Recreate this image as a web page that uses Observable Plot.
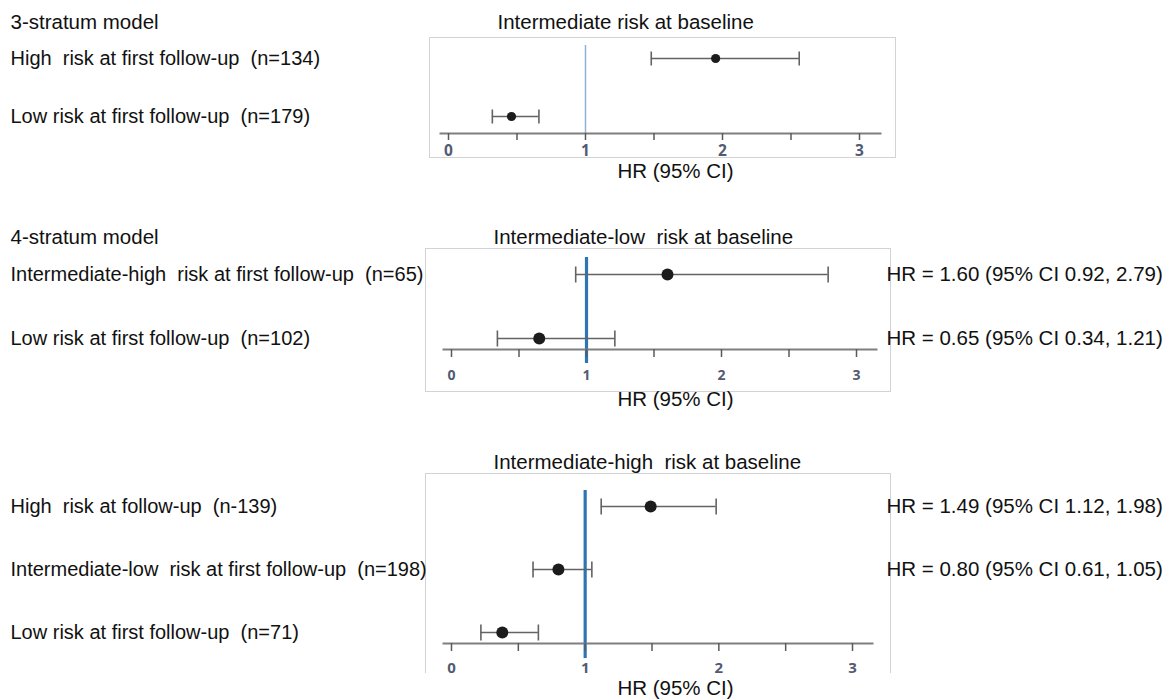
<!DOCTYPE html>
<html><head><meta charset="utf-8">
<script src="https://cdn.jsdelivr.net/npm/d3@7"></script>
<script src="https://cdn.jsdelivr.net/npm/@observablehq/plot@0.6"></script>
<style>
html,body{margin:0;padding:0;background:#fff;}
#chart{position:relative;width:1171px;height:700px;overflow:hidden;background:#fff;}
#chart svg{display:block;}
#chart text{white-space:pre;}
</style></head><body><div id="chart"></div>
<script>
// ---- data ----
const modelTitles = ["3-stratum model", "4-stratum model", ""];
const panelTitles = ["Intermediate risk at baseline", "Intermediate-low  risk at baseline", "Intermediate-high  risk at baseline"];
const axisLabel = "HR (95% CI)";
const xTicks = [0, 0.5, 1, 1.5, 2, 2.5, 3];
const xTickLabels = ["0", "", "1", "", "2", "", "3"];

const p1Labels = ["High  risk at first follow-up  (n=134)", "Low risk at first follow-up  (n=179)"];
const p1HR = [1.95, 0.46];
const p1Lo = [1.48, 0.32];
const p1Hi = [2.56, 0.66];
const p1Notes = ["", ""];

const p2Labels = ["Intermediate-high  risk at first follow-up  (n=65)", "Low risk at first follow-up  (n=102)"];
const p2HR = [1.60, 0.65];
const p2Lo = [0.92, 0.34];
const p2Hi = [2.79, 1.21];
const p2Notes = ["HR = 1.60 (95% CI 0.92, 2.79)", "HR = 0.65 (95% CI 0.34, 1.21)"];

const p3Labels = ["High  risk at follow-up  (n-139)", "Intermediate-low  risk at first follow-up  (n=198)", "Low risk at first follow-up  (n=71)"];
const p3HR = [1.49, 0.80, 0.38];
const p3Lo = [1.12, 0.61, 0.22];
const p3Hi = [1.98, 1.05, 0.65];
const p3Notes = ["HR = 1.49 (95% CI 1.12, 1.98)", "HR = 0.80 (95% CI 0.61, 1.05)", ""];

// ---- layout / style ----
const W = 1171;
const FONT = "Liberation Sans, Arial, sans-serif";
const FS = 20.5;
const FS_ROW = 20;

// vertical bar symbol for CI caps
const capSymbol = {
  draw(context, size) {
    const h = Math.sqrt(size / Math.PI);
    context.moveTo(0, -h);
    context.lineTo(0, h);
  }
};

const panels = [
  {model: modelTitles[0], title: panelTitles[0], labels: p1Labels, hr: p1HR, lo: p1Lo, hi: p1Hi, notes: p1Notes,
   g: {h: 205, mt: 45, axisY: 133, ml: 440, xr: 880, yInT: 13, yInB: 17, xInL: 8, xInR: 21,
       box: {l: 429, r: 895, t: 37, b: 157}, boxSides: false,
       refColor: "#8fb3d6", refW: 1.5, refBelow: 0,
       tickSize: 7, tickPad: 4, tickFont: 15.5, titleX: 497, titleY: 22, modelY: 22, hrY: 171, r: 4.6, cap: 7}},
  {model: modelTitles[1], title: panelTitles[1], labels: p2Labels, hr: p2HR, lo: p2Lo, hi: p2Hi, notes: p2Notes,
   g: {h: 235, mt: 52, axisY: 144, ml: 443, xr: 876, yInT: 17, yInB: 11, xInL: 8, xInR: 20,
       box: {l: 425, r: 890, t: 43, b: 186}, boxSides: false,
       refColor: "#2e75b6", refW: 3.2, refBelow: 14,
       tickSize: 8, tickPad: 13, tickFont: 14, titleX: 493, titleY: 31.5, modelY: 31.5, hrY: 194, r: 6, cap: 8}},
  {model: modelTitles[2], title: panelTitles[2], labels: p3Labels, hr: p3HR, lo: p3Lo, hi: p3Hi, notes: p3Notes,
   g: {h: 260, mt: 50, axisY: 203, ml: 443, xr: 872, yInT: 16, yInB: 11, xInL: 8, xInR: 20,
       box: {l: 425, r: 890, t: 33, b: 232}, boxSides: true,
       refColor: "#2e75b6", refW: 3.2, refBelow: 15,
       tickSize: 8, tickPad: 11, tickFont: 15, titleX: 493, titleY: 22, modelY: 22, hrY: 248, r: 6, cap: 8}}
];

const root = document.getElementById("chart");

for (const p of panels) {
  const g = p.g;
  const rows = p.labels.map((label, i) => ({label, hr: p.hr[i], lo: p.lo[i], hi: p.hi[i], note: p.notes[i]}));
  const mr = W - g.xr;
  const mb = g.h - g.axisY;
  const frameCenter = (g.ml + g.xr) / 2;
  const bi = {insetLeft: g.box.l - g.ml, insetRight: g.xr - g.box.r, insetTop: g.box.t - g.mt, insetBottom: g.axisY - g.box.b};
  const boxMarks = g.boxSides
    ? [Plot.frame({anchor: "left", stroke: "#d3d3d3", ...bi}),
       Plot.frame({anchor: "right", stroke: "#d3d3d3", ...bi}),
       Plot.frame({anchor: "top", stroke: "#d3d3d3", ...bi})]
    : [Plot.frame({stroke: "#d3d3d3", ...bi})];
  const textStyle = {fontFamily: FONT, fontSize: FS, fill: "#111"};
  const svg = Plot.plot({
    width: W, height: g.h,
    marginTop: g.mt, marginBottom: mb, marginLeft: g.ml, marginRight: mr,
    style: {fontFamily: FONT, background: "#fff", overflow: "visible"},
    x: {domain: [0, 3], insetLeft: g.xInL, insetRight: g.xInR, label: null},
    y: {type: "point", domain: p.labels, padding: 0, insetTop: g.yInT, insetBottom: g.yInB, axis: null},
    marks: [
      ...boxMarks,
      Plot.ruleX([1], {stroke: g.refColor, strokeWidth: g.refW, insetBottom: -g.refBelow}),
      Plot.frame({anchor: "bottom", stroke: "#7f7f7f", strokeWidth: 2}),
      Plot.axisX({ticks: xTicks, tickFormat: d => xTickLabels[xTicks.indexOf(d)], tickSize: g.tickSize,
                  tickPadding: g.tickPad, stroke: "#5a5a5a", strokeWidth: 1.5, fill: "#525b72",
                  fontSize: g.tickFont, fontWeight: "bold", fontFamily: "Open Sans, Noto Sans, sans-serif", label: null}),
      Plot.ruleY(rows, {y: "label", x1: "lo", x2: "hi", stroke: "#636363", strokeWidth: 1.6}),
      Plot.dot(rows, {y: "label", x: "lo", symbol: capSymbol, r: g.cap, stroke: "#636363", strokeWidth: 1.6, fill: "none"}),
      Plot.dot(rows, {y: "label", x: "hi", symbol: capSymbol, r: g.cap, stroke: "#636363", strokeWidth: 1.6, fill: "none"}),
      Plot.dot(rows, {y: "label", x: "hr", r: g.r, fill: "#1c1c1c", stroke: "none"}),
      Plot.text(rows, {y: "label", frameAnchor: "left", dx: 10 - g.ml, textAnchor: "start", text: "label", ...textStyle, fontSize: FS_ROW}),
      Plot.text(rows, {y: "label", frameAnchor: "right", dx: 886 - g.xr, textAnchor: "start", text: "note", ...textStyle}),
      Plot.text([p.title], {frameAnchor: "top-left", dx: g.titleX - g.ml, dy: g.titleY - g.mt, textAnchor: "start", lineAnchor: "middle", text: d => d, ...textStyle}),
      Plot.text([p.model], {frameAnchor: "top-left", dx: 10 - g.ml, dy: g.modelY - g.mt, textAnchor: "start", lineAnchor: "middle", text: d => d, ...textStyle}),
      Plot.text([axisLabel], {frameAnchor: "bottom", dx: 675 - frameCenter, dy: g.hrY - g.axisY, lineAnchor: "middle", text: d => d, ...textStyle})
    ]
  });
  root.appendChild(svg);
}
</script>
</body></html>
